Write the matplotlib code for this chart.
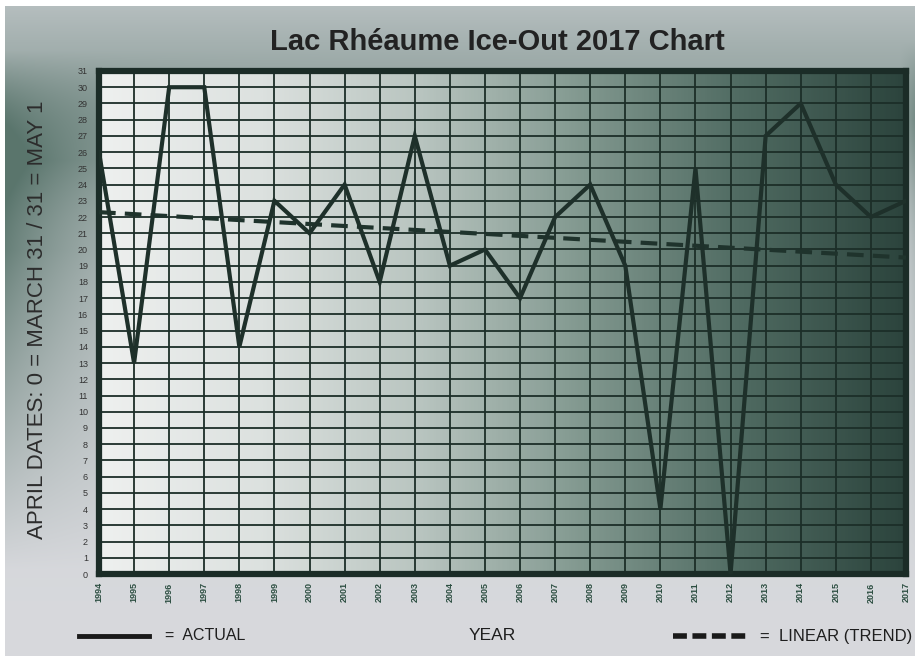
#!/usr/bin/env python3

import numpy as np
import matplotlib.pyplot as plt
from matplotlib.colors import LinearSegmentedColormap, to_rgb
from matplotlib.lines import Line2D

# ice-out day (april dates, 0 = march 31 / 31 = may 1)
years = [1994, 1995, 1996, 1997, 1998, 1999, 2000, 2001, 2002, 2003, 2004, 2005,
         2006, 2007, 2008, 2009, 2010, 2011, 2012, 2013, 2014, 2015, 2016, 2017]
actual = [26, 13, 30, 30, 14, 23, 21, 24, 18, 27, 19, 20,
          17, 22, 24, 19, 4, 25, 0, 27, 29, 24, 22, 23]
trend_years = [1994, 2017]
trend = [22.3, 19.5]

FONT = "Liberation Sans"
W, H = 918, 660
fig = plt.figure(figsize=(W / 100, H / 100), dpi=100)

# background of the whole picture: light grey with a green haze on the left / top
bg_ax = fig.add_axes([0, 0, 1, 1], zorder=-10)
bg_ax.axis("off")
yy, xx = np.mgrid[0:H, 0:W].astype(float)
top_col = np.array(to_rgb("#cdd1d4"))
bot_col = np.array(to_rgb("#d8d9dd"))
t = (yy / H)[..., None]
img = top_col * (1 - t) + bot_col * t
fy = np.clip((yy - 50) / 110, 0, 1) * np.clip((570 - yy) / 320, 0, 1)
w = 0.8 * np.exp(-xx / 120) * fy + 0.42 * np.exp(-((yy - 95) / 100) ** 2)
w += 0.3 * np.clip((xx - 900) / 15, 0, 1) * np.clip((yy - 40) / 80, 0, 1) \
    * np.clip(1 - (yy - 120) / 450, 0, 1)
w = np.clip(w, 0, 0.9)[..., None]
green = np.array(to_rgb("#4d6b61"))
img = img * (1 - w) + green * w
# white frame round the picture
img[:6, :] = 1
img[-4:, :] = 1
img[:, :5] = 1
img[:, -3:] = 1
bg_ax.imshow(img, extent=[0, 1, 0, 1], aspect="auto", interpolation="bilinear")

px0, px1, py0, py1 = 99, 906, 71, 574
ax = fig.add_axes([px0 / W, 1 - py1 / H, (px1 - px0) / W, (py1 - py0) / H])

cmap = LinearSegmentedColormap.from_list(
    "ice", ["#eef0ef", "#dce1df", "#b8c4bf", "#81988f", "#4f6a61", "#2c443d"])
grad = np.linspace(0, 1, 400)[None, :]
ax.imshow(grad, extent=[1994, 2017, 0, 31], aspect="auto", cmap=cmap, zorder=0)

ax.plot(trend_years, trend, color="#1f332c", lw=3, ls=(0, (4, 2.2)), zorder=3)
ax.plot(years, actual, color="#1e302a", lw=3, zorder=4, solid_joinstyle="miter")

ax.set_xlim(1994, 2017)
ax.set_ylim(0, 31)
ax.set_xticks(years)
ax.set_xticklabels([str(y) for y in years], rotation=90, fontsize=6.5,
                   fontweight="bold", color="#2b4d40", family=FONT)
ax.set_yticks(range(0, 32))
ax.set_yticklabels([str(v) for v in range(0, 32)], fontsize=6.5, color="#333333",
                   family=FONT)
ax.tick_params(length=0)
ax.tick_params(axis="y", pad=8)
ax.tick_params(axis="x", pad=6)
ax.grid(True, color="#1c2e28", lw=1.3)
for s in ax.spines.values():
    s.set_linewidth(4.5)
    s.set_color("#1b2c27")

fig.text(497 / W, 1 - 42 / H, "Lac Rhéaume Ice-Out 2017 Chart", ha="center", va="center",
         fontsize=21, fontweight="bold", color="#222222", family=FONT)
fig.text(38 / W, 1 - 320 / H, "APRIL DATES: 0 = MARCH 31 / 31 = MAY 1", rotation=90,
         ha="center", va="center", fontsize=16, color="#2c2c2c", family=FONT)

ly = 1 - 636 / H
fig.add_artist(Line2D([79 / W, 149 / W], [ly, ly], color="#1a1a1a", lw=3.5))
fig.text(165 / W, ly, "=  ACTUAL", ha="left", va="center", fontsize=11.5,
         color="#1e1e1e", family=FONT)
fig.text(492 / W, ly, "YEAR", ha="center", va="center", fontsize=12.5,
         color="#1e1e1e", family=FONT)
fig.add_artist(Line2D([673 / W, 746 / W], [ly, ly], color="#1a1a1a", lw=4,
                      ls=(0, (2.5, 1.0)), solid_capstyle="butt",
                      dash_capstyle="butt"))
fig.text(760 / W, ly, "=  LINEAR (TREND)", ha="left", va="center", fontsize=12,
         color="#1e1e1e", family=FONT)

plt.savefig("out.png", dpi=100)
